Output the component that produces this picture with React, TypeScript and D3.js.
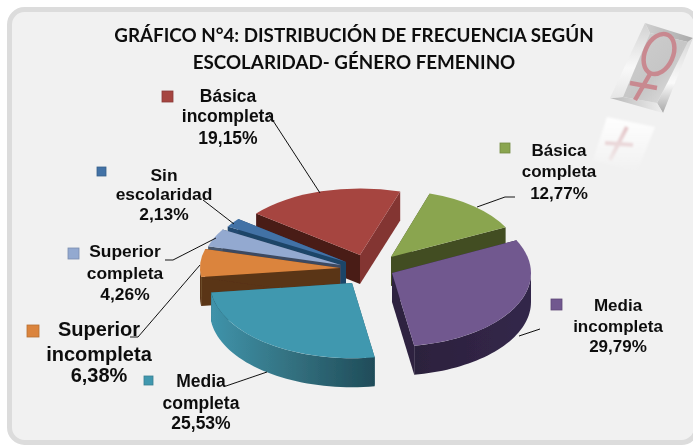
import React from "react";
import * as d3 from "d3";

const categories = ["Sin escolaridad", "Básica incompleta", "Básica completa", "Media incompleta", "Media completa", "Superior incompleta", "Superior completa"];
const values = [2.13, 19.15, 12.77, 29.79, 25.53, 6.38, 4.26];
const labelLines = [["Sin", "escolaridad", "2,13%"], ["Básica", "incompleta", "19,15%"], ["Básica", "completa", "12,77%"], ["Media", "incompleta", "29,79%"], ["Media", "completa", "25,53%"], ["Superior", "incompleta", "6,38%"], ["Superior", "completa", "4,26%"]];
const titleLines = ["GRÁFICO N°4: DISTRIBUCIÓN DE FRECUENCIA SEGÚN", "ESCOLARIDAD- GÉNERO FEMENINO"];

const topColors = ["#4372a6", "#a64541", "#8aa54f", "#71588f", "#4198af", "#db843d", "#93a9d0"];
const startWall = ["#244a70", "#4a1b18", "#434d23", "#2e2340", "#2a5f70", "#5a3415", "#46566e"];
const endWall = ["#1f4468", "#833432", "#434d23", "#2e2340", "#24505e", "#5a3415", "#3c4a60"];
const outerWall = ["#244a70", "#4a1b18", "#434d23", "url(#purpleWall)", "url(#tealWall)", "#5a3415", "#46566e"];

const tipX = [346, 360, 391, 392, 352, 340, 341];
const tipY = [262, 255, 257, 273, 283, 268, 265];
const radii = [138, 133, 128, 139, 142, 140, 138];
const squash = [0.5, 0.5, 0.52, 0.53, 0.53, 0.5, 0.5];
const depth = 29;
const drawOrder = [1, 0, 6, 5, 2, 3, 4];

const labelX = [164, 228, 559, 618, 201, 99, 125];
const labelY = [[181, 200, 220], [102, 122, 144], [156, 177, 199], [311, 332, 352], [387, 409, 429], [336, 361, 382], [257, 279, 300]];
const labelSize = [17.4, 17.5, 17, 17, 17.5, 20, 17.4];
const swatch = [[97, 167, 9], [162, 91, 11], [500, 143, 10], [551, 299, 11], [144, 376, 9], [27, 325, 12], [68, 248, 11]];
const leaders = [
  [[203, 200], [234, 224]],
  [[268, 113], [320, 193]],
  [[515, 197], [505, 197], [477, 207]],
  [[540, 329], [519, 336]],
  [[226, 386], [267, 372]],
  [[130, 337], [138, 337], [200, 265]],
  [[165, 260], [173, 260], [216, 238]],
];

const pie = d3.pie<number>().sort(null).startAngle((-59 * Math.PI) / 180).endAngle((301 * Math.PI) / 180);
const lineGen = d3.line<number[]>();

export default function App() {
  const arcs = pie(values);
  const arcGen = d3.arc<any>().innerRadius(0);
  const project = (i: number, a: number, dy = 0) => [
    tipX[i] + radii[i] * Math.sin(a),
    tipY[i] - radii[i] * squash[i] * Math.cos(a) + dy,
  ];
  const tip = (i: number, dy = 0) => [tipX[i], tipY[i] + dy];

  return (
    <svg width={693} height={445} style={{ position: "absolute", left: 0, top: 0 }} fontFamily="'Liberation Sans'">
      <defs>
        <filter id="soft" x="-5%" y="-5%" width="110%" height="110%"><feGaussianBlur stdDeviation="0.5" /></filter>
        <filter id="softer" x="-20%" y="-20%" width="140%" height="140%"><feGaussianBlur stdDeviation="1" /></filter>
        <linearGradient id="tealWall" x1="0" x2="1" y1="0" y2="0">
          <stop offset="0" stopColor="#3f93aa" /><stop offset="0.5" stopColor="#33707f" /><stop offset="1" stopColor="#1f4c59" />
        </linearGradient>
        <linearGradient id="purpleWall" x1="0" x2="1" y1="0" y2="0">
          <stop offset="0" stopColor="#2c213d" /><stop offset="1" stopColor="#33274a" />
        </linearGradient>
        <linearGradient id="topFacet" x1="0" x2="1" y1="0" y2="0">
          <stop offset="0" stopColor="#cfcfcf" /><stop offset="1" stopColor="#aaaaaa" />
        </linearGradient>
        <linearGradient id="rightFacet" x1="0" x2="0" y1="0" y2="1">
          <stop offset="0" stopColor="#d8d8d8" /><stop offset="0.6" stopColor="#fafafa" /><stop offset="1" stopColor="#a9a9a9" />
        </linearGradient>
        <linearGradient id="leftFacet" x1="0" x2="0" y1="0" y2="1">
          <stop offset="0" stopColor="#d2d2d2" /><stop offset="0.6" stopColor="#f8f8f8" /><stop offset="1" stopColor="#e6e6e6" />
        </linearGradient>
        <linearGradient id="bottomFacet" x1="0" x2="1" y1="0" y2="0">
          <stop offset="0" stopColor="#b8b8b8" /><stop offset="1" stopColor="#eeeeee" />
        </linearGradient>
        <linearGradient id="panel" x1="0" x2="1" y1="0" y2="1">
          <stop offset="0" stopColor="#cfcfcf" /><stop offset="0.55" stopColor="#c6c6c6" /><stop offset="1" stopColor="#e6e6e6" />
        </linearGradient>
        <linearGradient id="reflect" x1="0" x2="0" y1="0" y2="1">
          <stop offset="0" stopColor="#ffffff" stopOpacity="0.95" /><stop offset="1" stopColor="#ffffff" stopOpacity="0" />
        </linearGradient>
        <linearGradient id="reflectMark" gradientUnits="userSpaceOnUse" x1="0" x2="0" y1="127" y2="165">
          <stop offset="0" stopColor="#e4c5c8" /><stop offset="1" stopColor="#f2eeee" />
        </linearGradient>
      </defs>
      <rect width={693} height={445} fill="#ffffff" />
      <rect x={9.5} y={9.5} width={687} height={433} rx={15} fill="#f1f1f1" stroke="#dcdcdc" strokeWidth={5} />

      <g filter="url(#softer)">
        <polygon points="607,117 655,127 637,172 593,160" fill="url(#reflect)" />
        <path d="M627,127 L610,160 M605,143 L633,145" stroke="url(#reflectMark)" strokeWidth={4} fill="none" />
      </g>
      <g filter="url(#soft)">
        <polygon points="645,23 693,38 688,42 650,33" fill="url(#topFacet)" />
        <polygon points="693,38 663,113 657,103 688,42" fill="url(#rightFacet)" />
        <polygon points="663,113 610,98 623,97 657,103" fill="url(#bottomFacet)" />
        <polygon points="610,98 645,23 650,33 623,97" fill="url(#leftFacet)" />
        <polygon points="650,33 688,42 657,103 623,97" fill="url(#panel)" />
        <g stroke="#c9848c" fill="none" strokeWidth={4.5} opacity={0.92}>
          <ellipse cx={659} cy={54} rx={14} ry={21} transform="rotate(24 659 54)" />
          <path d="M650,74 L635,100 M630,83 L657,88" />
        </g>
      </g>

      <g filter="url(#soft)">
        {titleLines.map((t, i) => (
          <text key={t} x={354} y={42 + i * 27} textAnchor="middle" fontFamily="Lato" fontWeight={700} fontSize={18.8} fill="#111">{t}</text>
        ))}

        {drawOrder.map((i) => {
          const d = arcs[i];
          const r = radii[i];
          const a0 = d.startAngle;
          const a1 = d.endAngle;
          // Only the part of the rim that faces the viewer (90° to 270°) is drawn.
          const from = Math.max(a0, Math.PI / 2);
          const to = Math.min(a1, (3 * Math.PI) / 2);
          const arcPts = to > from ? d3.range(0, 41).map((k) => from + ((to - from) * k) / 40) : [];
          const band = [...arcPts.map((a) => project(i, a)), ...arcPts.slice().reverse().map((a) => project(i, a, depth))];
          const face = (a: number) => [tip(i), project(i, a), project(i, a, depth), tip(i, depth)];
          return (
            <g key={categories[i]}>
              <path d={lineGen(face(a0)) + "Z"} fill={startWall[i]} />
              <path d={lineGen(face(a1)) + "Z"} fill={endWall[i]} />
              {band.length > 0 && <path d={lineGen(band) + "Z"} fill={outerWall[i]} />}
              <path
                d={arcGen({ ...d, outerRadius: r }) as string}
                transform={`translate(${tipX[i]},${tipY[i]}) scale(1,${squash[i]})`}
                fill={topColors[i]}
              />
            </g>
          );
        })}

        {leaders.map((pts, i) => (
          <path key={i} d={lineGen(pts) as string} fill="none" stroke="#111" strokeWidth={1} />
        ))}

        {categories.map((c, i) => (
          <g key={c}>
            <rect x={swatch[i][0]} y={swatch[i][1]} width={swatch[i][2]} height={swatch[i][2]} fill={topColors[i]} stroke={d3.color(topColors[i])!.darker(0.5).formatHex()} strokeWidth={0.8} />
            {labelLines[i].map((t, k) => (
              <text key={k} x={labelX[i]} y={labelY[i][k]} textAnchor="middle" fontWeight={700} fontSize={labelSize[i]} fill="#111">{t}</text>
            ))}
          </g>
        ))}
      </g>
    </svg>
  );
}
